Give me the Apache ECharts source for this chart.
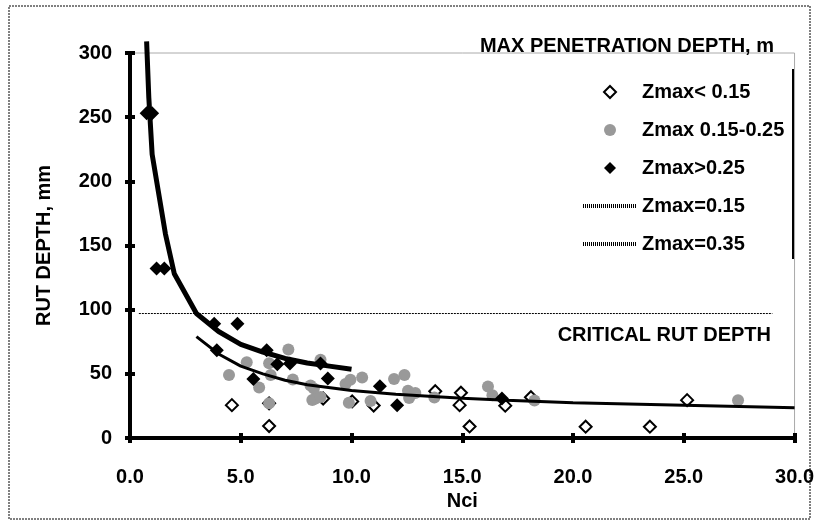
<!DOCTYPE html>
<html lang="en">
<head>
<meta charset="UTF-8">
<title>RUT DEPTH vs Nci</title>
<script src="https://cdn.jsdelivr.net/npm/echarts@6/dist/echarts.min.js"></script>
<style>html,body{margin:0;padding:0;background:#fff;}</style>
</head>
<body>
<div id="main" style="width:817px;height:526px;"></div>
<script>
// points: [Nci, rut depth mm]
var zLow = [[4.6,25.6],[6.28,9.3],[6.28,27],[8.72,30.8],[10.03,28.5],[11.0,25.3],[13.78,36.4],
    [14.94,35.3],[14.88,25.6],[15.33,9],[16.94,25.2],[18.1,31.8],[20.57,8.8],[23.47,8.8],[25.15,29.5]];
var zMid = [[4.47,49],[5.27,59],[5.83,39.4],[6.28,27],[6.28,58.3],[6.35,49],[7.15,69],[7.35,45.6],
    [8.15,41],[8.3,38.6],[8.23,29.6],[8.38,30.8],[8.6,32],[8.6,61],[9.73,42],[9.95,45.3],[10.48,47.2],
    [9.88,27.4],[10.86,28.9],[11.92,46],[12.39,49],[12.55,36.8],[12.6,31.2],[12.88,35],[13.74,31.6],
    [16.16,40.2],[16.36,33.4],[18.26,29.3],[27.45,29.5]];
var zHigh = [[0.75,253],[1.0,253],[1.2,132],[1.55,132],[3.8,89],[4.85,89],[3.92,68.3],[5.57,46],
    [6.17,68.3],[6.65,57.5],[7.22,58],[8.6,58],[8.93,46.3],[11.28,40.4],[12.06,25.6],[16.79,30.8]];
// fitted curves as drawn
var curve015 = [[3,79],[4,65.5],[5,56],[6,50],[7,45],[8,41.5],[10,37],[12,34],[15,31],[17,29.5],
    [20,27.5],[25,25.5],[30,23.5]];
var curve035 = [[0.75,309],[0.85,265],[1,221],[1.6,159],[2,128],[3,97],[4,83],[5,73],[6,67],
    [7,62],[8,58.5],[9,56],[10,53.5]];
var criticalLine = [[0.4,97],[29,97]];
var names = ['Zmax< 0.15', 'Zmax 0.15-0.25', 'Zmax>0.25', 'Zmax=0.15', 'Zmax=0.35'];

var font = 'Liberation Sans, Arial, sans-serif';
var chart = echarts.init(document.getElementById('main'));

var diamondIcon = 'path://M0,-10L10,0L0,10L-10,0Z';
var legendLine = {type: [1, 1], width: 4, color: '#000'};
var noDot = {color: 'rgba(0,0,0,0)', borderWidth: 0};

option = {
    animation: false,
    backgroundColor: '#fff',
    textStyle: {fontFamily: font},
    grid: {left: 130, right: 22, top: 53, bottom: 88, show: true, borderColor: '#aaa', borderWidth: 1},
    legend: {
        orient: 'vertical', left: 581, top: 82, padding: 0,
        itemWidth: 54, itemHeight: 12, itemGap: 18,
        textStyle: {fontFamily: font, fontSize: 20, fontWeight: 'bold', color: '#000'},
        data: [
            {name: names[0], icon: diamondIcon},
            {name: names[1]},
            {name: names[2], icon: diamondIcon},
            {name: names[3], lineStyle: legendLine, itemStyle: noDot},
            {name: names[4], lineStyle: legendLine, itemStyle: noDot}
        ]
    },
    xAxis: [{
        type: 'value', min: 0, max: 30, interval: 5,
        name: 'Nci', nameLocation: 'middle', nameGap: 50,
        nameTextStyle: {fontFamily: font, fontSize: 20, fontWeight: 'bold', color: '#000'},
        axisLine: {onZero: false, lineStyle: {color: '#000', width: 4}},
        axisTick: {length: 5, lineStyle: {color: '#000', width: 4}},
        axisLabel: {margin: 29, fontFamily: font, fontSize: 20, fontWeight: 'bold', color: '#000',
            formatter: function (v) { return v.toFixed(1); }},
        splitLine: {show: false}
    }, {
        type: 'value', min: 0, max: 30, interval: 5, position: 'bottom',
        axisLine: {show: false}, axisLabel: {show: false}, splitLine: {show: false},
        axisTick: {inside: true, length: 5, lineStyle: {color: '#000', width: 4}}
    }],
    yAxis: [{
        type: 'value', min: 0, max: 300, interval: 50,
        name: 'RUT DEPTH, mm', nameLocation: 'middle', nameGap: 76,
        nameTextStyle: {fontFamily: font, fontSize: 20, fontWeight: 'bold', color: '#000'},
        axisLine: {onZero: false, lineStyle: {color: '#000', width: 4}},
        axisTick: {length: 5, lineStyle: {color: '#000', width: 4}},
        axisLabel: {margin: 18, fontFamily: font, fontSize: 20, fontWeight: 'bold', color: '#000'},
        splitLine: {show: false}
    }, {
        type: 'value', min: 0, max: 300, interval: 50, position: 'left',
        axisLine: {show: false}, axisLabel: {show: false}, splitLine: {show: false},
        axisTick: {inside: true, length: 5, lineStyle: {color: '#000', width: 4}}
    }],
    series: [{
        name: 'critical', type: 'line', data: criticalLine, symbol: 'none', silent: true,
        lineStyle: {color: '#000', width: 1, type: [2, 1]}
    }, {
        name: names[0], type: 'scatter', data: zLow, symbol: 'diamond', symbolSize: 12,
        itemStyle: {color: '#fff', borderColor: '#000', borderWidth: 2, opacity: 1}
    }, {
        name: names[1], type: 'scatter', data: zMid, symbol: 'circle', symbolSize: 12,
        itemStyle: {color: '#999', opacity: 1}
    }, {
        name: names[2], type: 'scatter', data: zHigh, symbol: 'diamond', symbolSize: 14,
        itemStyle: {color: '#000', opacity: 1}
    }, {
        name: names[3], type: 'line', data: curve015, symbol: 'none',
        itemStyle: {color: '#000'},
        lineStyle: {color: '#000', width: 3}
    }, {
        name: names[4], type: 'line', data: curve035, symbol: 'none', clip: false,
        itemStyle: {color: '#000'},
        lineStyle: {color: '#000', width: 5}
    }],
    graphic: [
        {type: 'rect', shape: {x: 9, y: 6, width: 801, height: 513},
            style: {fill: 'none', stroke: '#000', lineWidth: 1, lineDash: [2, 1]}},
        {type: 'line', shape: {x1: 793, y1: 69, x2: 793, y2: 259},
            style: {stroke: '#000', lineWidth: 2}},
        {type: 'text', right: 43, top: 36,
            style: {text: 'MAX PENETRATION DEPTH, m', font: 'bold 20px ' + font, fill: '#000'}},
        {type: 'text', right: 46, top: 325,
            style: {text: 'CRITICAL RUT DEPTH', font: 'bold 20px ' + font, fill: '#000'}}
    ]
};
chart.setOption(option);
</script>
</body>
</html>
